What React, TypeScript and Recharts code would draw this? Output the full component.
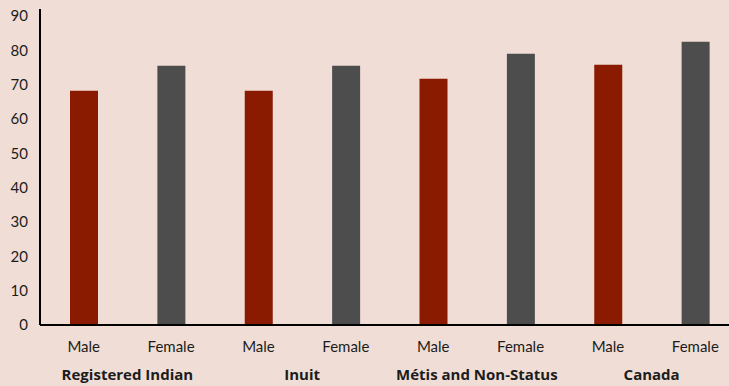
import React from 'react';
import { BarChart, Bar, XAxis, YAxis, Cell } from 'recharts';

const groups = ['Registered Indian', 'Inuit', 'Métis and Non-Status', 'Canada'];
const sexes = ['Male', 'Female'];
const lifeExpectancy = [68.2, 75.5, 68.2, 75.5, 71.7, 79.0, 75.8, 82.5];
const yTicks = [0, 10, 20, 30, 40, 50, 60, 70, 80, 90];

const colors: Record<string, string> = { Male: '#8a1a00', Female: '#4d4d4d' };
const textColor = '#1c1c1c';
const font = 'Lato, "Open Sans", sans-serif';

const data = lifeExpectancy.map((v, i) => ({
  key: `${groups[Math.floor(i / 2)]}-${sexes[i % 2]}`,
  sex: sexes[i % 2],
  group: groups[Math.floor(i / 2)],
  value: v,
}));

const GroupTick = (props: any) => {
  const { x, y, index, payload } = props;
  const item = data[index];
  const band = 87.4;
  return (
    <g>
      <text x={x} y={y + 19} textAnchor="middle" fontSize={15} fill={textColor} fontFamily={font}>
        {item ? item.sex : payload.value}
      </text>
      {index % 2 === 0 && item && (
        <text x={x + band / 2} y={y + 47} textAnchor="middle" fontSize={15} fontWeight="bold" fill={textColor} fontFamily='"Open Sans", Lato, sans-serif'>
          {item.group}
        </text>
      )}
    </g>
  );
};

export default function App() {
  return (
    <div style={{ position: 'absolute', left: 0, top: 0, width: 729, height: 386, overflow: 'hidden', background: '#f0ded6' }}>
      <BarChart width={739} height={386} data={data} margin={{ top: 9, right: 0, bottom: 0, left: 0 }} barCategoryGap={0}>
        <XAxis
          dataKey="key"
          height={61}
          tickLine={false}
          axisLine={{ stroke: '#000', strokeWidth: 2 }}
          tick={<GroupTick />}
          interval={0}
        />
        <YAxis
          width={40}
          domain={[0, 92]}
          ticks={yTicks}
          tickLine={false}
          axisLine={{ stroke: '#000', strokeWidth: 2 }}
          tick={{ fill: textColor, fontSize: 15, fontFamily: font }}
          tickMargin={6}
          interval={0}
        />
        <Bar dataKey="value" barSize={28} isAnimationActive={false}>
          {data.map((d) => (
            <Cell key={d.key} fill={colors[d.sex]} />
          ))}
        </Bar>
      </BarChart>
    </div>
  );
}
